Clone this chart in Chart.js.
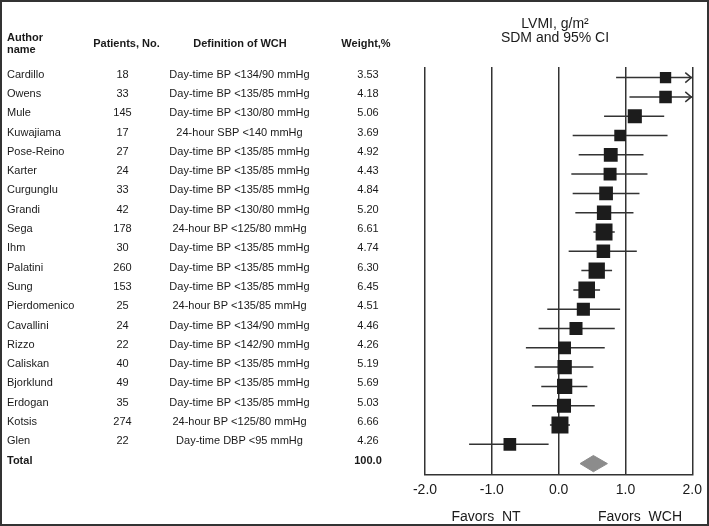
<!DOCTYPE html>
<html>
<head>
<meta charset="utf-8">
<script src="https://cdn.jsdelivr.net/npm/chart.js@4.4.0/dist/chart.umd.min.js"></script>
<style>
body { margin: 0; background: #fff; }
#wrap { width: 709px; height: 526px; }
</style>
</head>
<body>
<div id="wrap"><canvas id="forest" width="709" height="526"></canvas></div>
<script>
var authors = ['Cardillo','Owens','Mule','Kuwajiama','Pose-Reino','Karter','Curgunglu','Grandi','Sega','Ihm',
	'Palatini','Sung','Pierdomenico','Cavallini','Rizzo','Caliskan','Bjorklund','Erdogan','Kotsis','Glen'];
var patients = [18,33,145,17,27,24,33,42,178,30,260,153,25,24,22,40,49,35,274,22];
var definitions = ['Day-time BP <134/90 mmHg','Day-time BP <135/85 mmHg','Day-time BP <130/80 mmHg','24-hour SBP <140 mmHg',
	'Day-time BP <135/85 mmHg','Day-time BP <135/85 mmHg','Day-time BP <135/85 mmHg','Day-time BP <130/80 mmHg',
	'24-hour BP <125/80 mmHg','Day-time BP <135/85 mmHg','Day-time BP <135/85 mmHg','Day-time BP <135/85 mmHg',
	'24-hour BP <135/85 mmHg','Day-time BP <134/90 mmHg','Day-time BP <142/90 mmHg','Day-time BP <135/85 mmHg',
	'Day-time BP <135/85 mmHg','Day-time BP <135/85 mmHg','24-hour BP <125/80 mmHg','Day-time DBP <95 mmHg'];
var weights = [3.53,4.18,5.06,3.69,4.92,4.43,4.84,5.20,6.61,4.74,6.30,6.45,4.51,4.46,4.26,5.19,5.69,5.03,6.66,4.26];
var sdm = [1.60,1.60,1.14,0.92,0.78,0.77,0.71,0.68,0.68,0.67,0.57,0.42,0.37,0.26,0.09,0.09,0.09,0.08,0.02,-0.73];
var ciLow = [0.86,1.06,0.68,0.21,0.30,0.19,0.21,0.25,0.52,0.15,0.34,0.22,-0.17,-0.30,-0.49,-0.36,-0.26,-0.40,-0.13,-1.34];
var ciHigh = [2.4,2.6,1.58,1.63,1.27,1.33,1.21,1.12,0.84,1.17,0.80,0.62,0.92,0.84,0.69,0.52,0.43,0.54,0.17,-0.15];
var totalWeight = '100.0';
var totalSdm = 0.52;
var totalCi = [0.32, 0.73];
var xTicks = [-2, -1, 0, 1, 2];

var FONT = "'Liberation Sans', Arial, sans-serif";
var totalRow = authors.length;

// points for the squares
var squares = [];
for (var i in sdm) {
	squares.push({x: sdm[i], y: +i});
}

// CI whiskers, one line with gaps between studies
var whiskers = [];
for (var i in sdm) {
	whiskers.push({x: ciLow[i], y: +i});
	whiskers.push({x: ciHigh[i], y: +i});
	whiskers.push({x: NaN, y: NaN});
}

// pooled estimate diamond
var diamond = [
	{x: totalCi[0], y: totalRow},
	{x: totalSdm, y: totalRow - 0.42},
	{x: totalCi[1], y: totalRow},
	{x: totalSdm, y: totalRow + 0.42},
	{x: totalCi[0], y: totalRow}
];

var tablePlugin = {
	id: 'tablePlugin',
	beforeDraw: function(chart) {
		var c = chart.ctx;
		c.save();
		c.fillStyle = '#fff';
		c.fillRect(0, 0, chart.width, chart.height);
		c.restore();
	},
	afterDraw: function(chart) {
		var c = chart.ctx;
		var ys = chart.scales.y;
		var xs = chart.scales.x;
		c.save();
		c.fillStyle = '#1a1a1a';
		c.textBaseline = 'middle';

		// headers
		c.font = 'bold 11px ' + FONT;
		c.textAlign = 'left';
		c.fillText('Author', 7, 37.5);
		c.fillText('name', 7, 49.5);
		c.textAlign = 'center';
		c.fillText('Patients, No.', 126.5, 43.5);
		c.fillText('Definition of WCH', 240, 43.5);
		c.fillText('Weight,%', 366, 43.5);

		// rows
		c.font = '11px ' + FONT;
		for (var i = 0; i < authors.length; i++) {
			var y = ys.getPixelForValue(i) - 3;
			c.textAlign = 'left';
			c.fillText(authors[i], 7, y);
			c.textAlign = 'center';
			c.fillText(String(patients[i]), 122.5, y);
			c.fillText(definitions[i], 239.5, y);
			c.fillText(weights[i].toFixed(2), 368, y);
		}
		var yt = ys.getPixelForValue(totalRow) - 3;
		c.font = 'bold 11px ' + FONT;
		c.textAlign = 'left';
		c.fillText('Total', 7, yt);
		c.textAlign = 'center';
		c.fillText(totalWeight, 368, yt);

		// arrow heads for CIs running off the scale
		c.strokeStyle = '#333';
		c.lineWidth = 1.5;
		for (var i = 0; i < ciHigh.length; i++) {
			if (ciHigh[i] > xs.max) {
				var ax = xs.getPixelForValue(xs.max) - 1;
				var ay = ys.getPixelForValue(i);
				c.beginPath();
				c.moveTo(ax - 6, ay - 5);
				c.lineTo(ax, ay);
				c.lineTo(ax - 6, ay + 5);
				c.stroke();
			}
		}

		// title
		c.font = '14px ' + FONT;
		c.textAlign = 'center';
		c.fillText('LVMI, g/m\u00B2', 555, 24);
		c.fillText('SDM and 95% CI', 555, 38);

		// favours labels
		c.fillText('Favors  NT', 486, 517);
		c.fillText('Favors  WCH', 640, 517);

		// outer frame
		c.strokeStyle = '#333';
		c.lineWidth = 2;
		c.strokeRect(1, 1, chart.width - 2, chart.height - 2);
		c.restore();
	}
};

var ctx = document.getElementById('forest');
var forest = new Chart(ctx, {
	type: 'scatter',
	data: {
		datasets: [
			{
				type: 'line',
				label: 'CI',
				data: whiskers,
				borderColor: '#333',
				borderWidth: 1.5,
				pointRadius: 0,
				spanGaps: false,
				tension: 0,
				order: 2
			},
			{
				label: 'SDM',
				data: squares,
				pointStyle: 'rect',
				pointRadius: weights.map(function(w) { return (5 + 1.8 * w) / 1.414; }),
				backgroundColor: '#1c1c1c',
				borderColor: '#1c1c1c',
				borderWidth: 0,
				order: 1
			},
			{
				type: 'line',
				label: 'Total',
				data: diamond,
				borderColor: '#8c8c8c',
				backgroundColor: '#8c8c8c',
				borderWidth: 1,
				pointRadius: 0,
				fill: 'shape',
				tension: 0,
				order: 0
			}
		]
	},
	options: {
		responsive: false,
		animation: false,
		events: [],
		layout: {
			padding: {left: 425, right: 14, top: 67, bottom: 20}
		},
		plugins: {
			legend: {display: false},
			tooltip: {enabled: false}
		},
		scales: {
			x: {
				type: 'linear',
				min: -2,
				max: 2,
				afterBuildTicks: function(axis) {
					axis.ticks = xTicks.map(function(v) { return {value: v}; });
				},
				ticks: {
					callback: function(v) { return Number(v).toFixed(1); },
					font: {size: 14, family: FONT},
					color: '#1a1a1a',
					padding: 7,
					maxRotation: 0
				},
				grid: {color: '#333', lineWidth: 1.5, drawTicks: false},
				border: {color: '#333', width: 1.5}
			},
			y: {
				type: 'linear',
				min: -0.55,
				max: 20.6,
				reverse: true,
				display: false
			}
		}
	},
	plugins: [tablePlugin]
});
</script>
</body>
</html>
